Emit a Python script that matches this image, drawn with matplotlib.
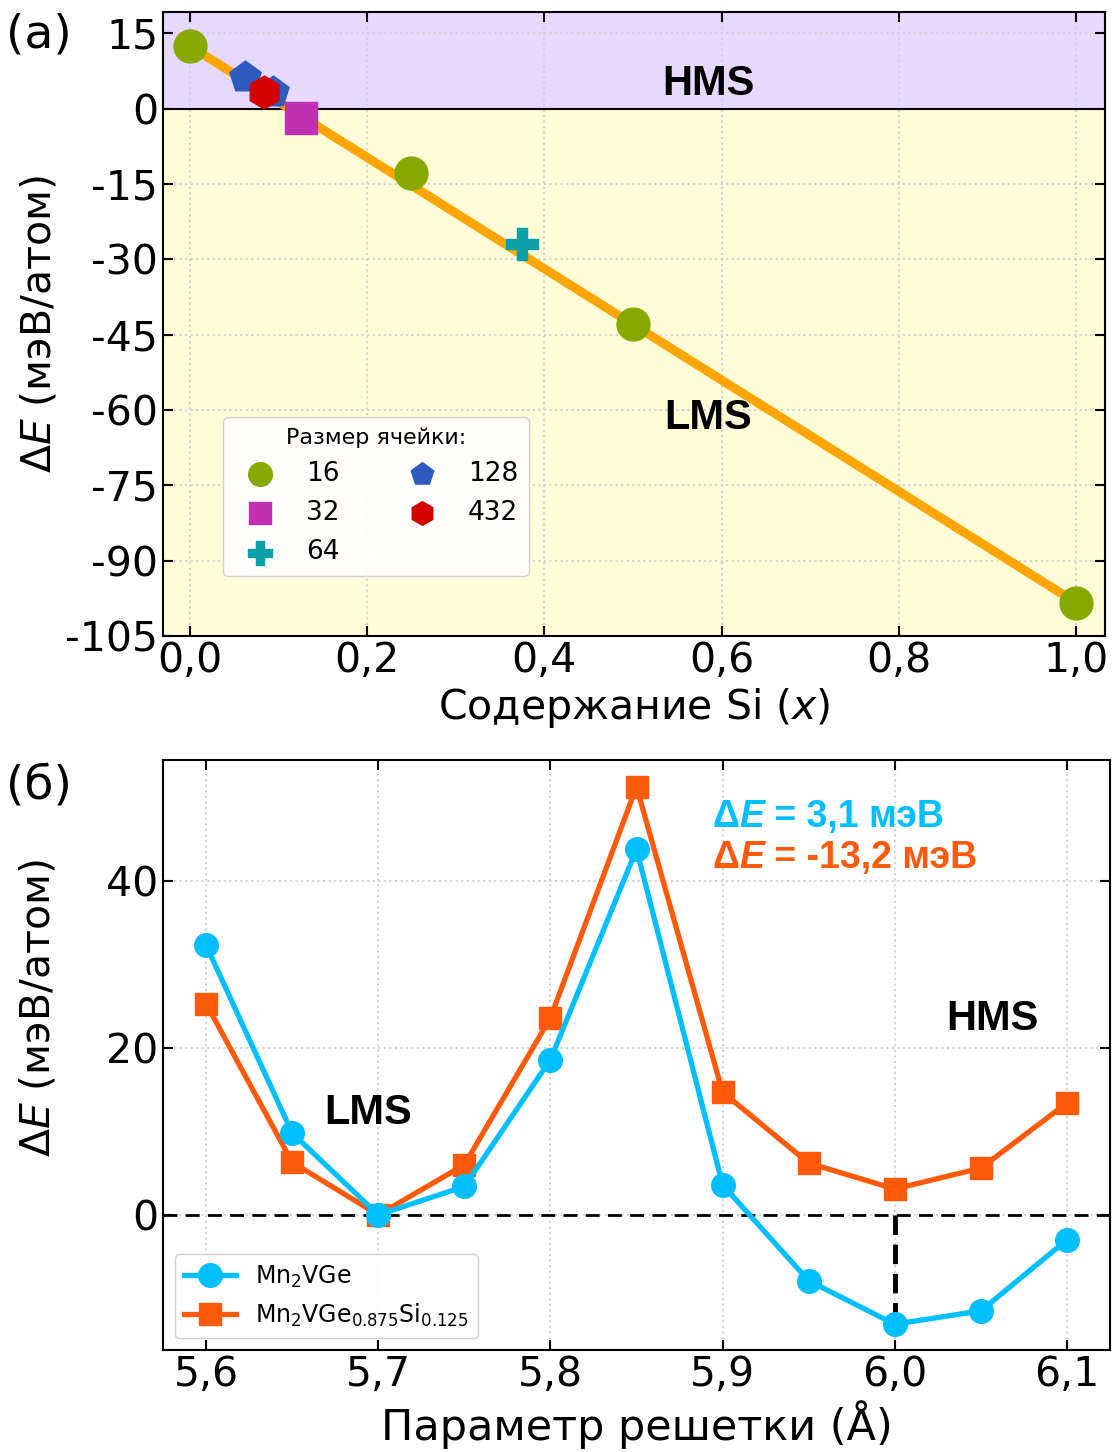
import matplotlib.pyplot as plt
import numpy as np

# (a) formation energy vs Si content
x16 = [0.0, 0.25, 0.5, 1.0]
y16 = [12.5, -12.8, -42.8, -98.4]
x32 = [0.125]
y32 = [-1.8]
x64 = [0.375]
y64 = [-27.0]
x128 = [0.0625, 0.09375]
y128 = [6.3, 3.3]
x432 = [0.0833]
y432 = [3.4]
fit_x = [0.0, 1.0]
fit_y = [12.5, -98.4]

# (b) energy vs lattice parameter
a_param = [5.6, 5.65, 5.7, 5.75, 5.8, 5.85, 5.9, 5.95, 6.0, 6.05, 6.1]
e_ge = [32.3, 9.8, 0.0, 3.4, 18.6, 43.8, 3.6, -7.9, -13.1, -11.5, -3.0]
e_gesi = [25.3, 6.3, 0.0, 6.0, 23.6, 51.3, 14.7, 6.2, 3.1, 5.6, 13.4]

FS = 29.5
fig = plt.figure(figsize=(11.17, 14.52), dpi=100)
ax1 = fig.add_axes([0.146, 0.562, 0.843, 0.4295])
ax2 = fig.add_axes([0.146, 0.0702, 0.8477, 0.4064])

grid_style = dict(color="lightgray", linestyle=":", linewidth=1.5)
bold = dict(fontweight="bold", family="Liberation Sans")

def comma(vals, fmt):
    return [fmt.format(v).replace(".", ",") for v in vals]

def delta_text(ax, x, y, rest, color):
    t1 = ax.text(x, y, "Δ", fontsize=27, color=color, va="baseline", **bold)
    t2 = ax.annotate("E", xy=(1, 0), xycoords=t1, va="bottom", fontsize=27,
                     color=color, style="italic", **bold)
    ax.annotate(rest, xy=(1, 0), xycoords=t2, va="bottom", fontsize=27,
                color=color, **bold)

# ---- panel (a)
ax1.set_xlim(-0.03, 1.032)
ax1.set_ylim(-105, 19.2)
ax1.axhspan(0, 19.2, color="#e6d8ff", zorder=0)
ax1.axhspan(-105, 0, color="#fffdd8", zorder=0)
ax1.axhline(0, color="black", linewidth=1.5, zorder=1)
ax1.grid(True, **grid_style)
ax1.set_axisbelow(True)
ax1.plot(fit_x, fit_y, color="#ffa500", linewidth=6.5, zorder=2)
ax1.scatter(x16, y16, s=560, marker="o", color="#86a800", zorder=3, label="16")
ax1.scatter(x32, y32, s=520, marker="s", color="#c030b0", zorder=3, label="32")
ax1.scatter(x64, y64, s=560, marker="P", color="#0aa0a8", zorder=3, label="64")
ax1.scatter(x128, y128, s=560, marker="p", color="#2f5bbf", zorder=3, label="128")
ax1.scatter(x432, y432, s=560, marker="h", color="#d40000", zorder=4, label="432")
ax1.text(0.585, 5, "HMS", fontsize=30, ha="center", va="center", **bold)
ax1.text(0.585, -61.5, "LMS", fontsize=30, ha="center", va="center", **bold)
xt1 = np.arange(0, 1.01, 0.2)
ax1.set_xticks(xt1)
ax1.set_xticklabels(comma(xt1, "{:.1f}"))
yt1 = np.arange(15, -106, -15)
ax1.set_yticks(yt1)
ax1.set_yticklabels([str(v) for v in yt1])
ax1.tick_params(direction="in", labelsize=FS, top=True, right=True, length=7, width=1.5)
ax1.set_xlabel("Содержание Si ($x$)", fontsize=FS)
ax1.set_ylabel(r"$\Delta E$ (мэВ/атом)", fontsize=FS)
ax1.legend(title="Размер ячейки:", ncol=2, loc="lower left", bbox_to_anchor=(0.05, 0.075),
           fontsize=19, title_fontsize=16, markerscale=0.72, columnspacing=2.1,
           handletextpad=0.75, labelspacing=0.5, framealpha=0.9)

# ---- panel (b)
ax2.set_xlim(5.575, 6.125)
ax2.set_ylim(-16.2, 54.5)
ax2.grid(True, **grid_style)
ax2.set_axisbelow(True)
ax2.axhline(0, color="black", linestyle="--", linewidth=2, dashes=(5, 3), zorder=1)
ax2.plot([6.0, 6.0], [0, e_ge[8]], color="black", linestyle="--", linewidth=3.5,
         dashes=(4, 2), zorder=1)
ax2.plot(a_param, e_ge, color="#00bfff", linewidth=3.8, marker="o", markersize=17,
         label=r"Mn$_2$VGe", zorder=3)
ax2.plot(a_param, e_gesi, color="#ff5a0a", linewidth=3.8, marker="s", markersize=16,
         label=r"Mn$_2$VGe$_{0.875}$Si$_{0.125}$", zorder=2)
ax2.text(5.694, 12.2, "LMS", fontsize=30, ha="center", va="center", **bold)
ax2.text(6.057, 23.5, "HMS", fontsize=30, ha="center", va="center", **bold)
delta_text(ax2, 5.894, 46.5, " = 3,1 мэВ", "#00bfff")
delta_text(ax2, 5.894, 41.5, " = -13,2 мэВ", "#ff5a0a")
xt2 = np.arange(5.6, 6.11, 0.1)
ax2.set_xticks(xt2)
ax2.set_xticklabels(comma(xt2, "{:.1f}"))
ax2.set_yticks([0, 20, 40])
ax2.tick_params(direction="in", labelsize=FS, top=True, right=True, length=7, width=1.5)
ax2.set_xlabel("Параметр решетки (Å)", fontsize=31)
ax2.set_ylabel(r"$\Delta E$ (мэВ/атом)", fontsize=FS)
ax2.yaxis.set_label_coords(-0.11, 0.58)
ax2.legend(loc="lower left", fontsize=17, handlelength=2.2, framealpha=0.9)

for ax in (ax1, ax2):
    for sp in ax.spines.values():
        sp.set_linewidth(1.5)

fig.text(0.005, 0.976, "(a)", fontsize=34, va="center")
fig.text(0.005, 0.459, "(б)", fontsize=34, va="center")

fig.savefig("out.png", dpi=100)
